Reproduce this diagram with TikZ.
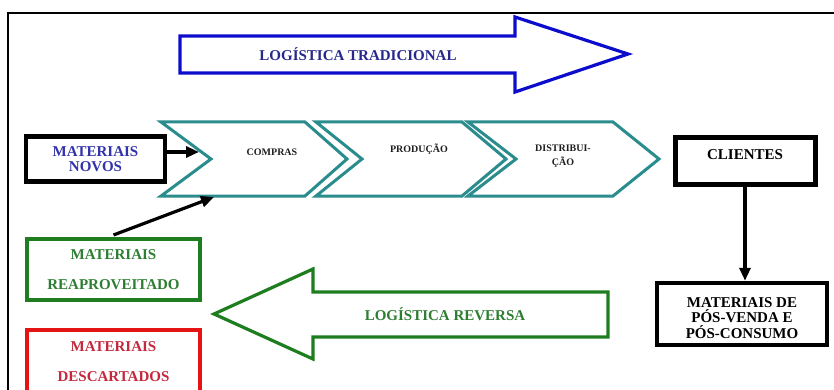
\documentclass[tikz,border=0pt]{standalone}
\usepackage{fontspec}
\setmainfont{Liberation Serif}
\usetikzlibrary{arrows.meta}
\definecolor{tblue}{RGB}{12,12,205}
\definecolor{tbluetxt}{RGB}{40,40,140}
\definecolor{novotxt}{RGB}{50,50,170}
\definecolor{tealc}{RGB}{42,140,140}
\definecolor{gline}{RGB}{30,125,30}
\definecolor{gtxt}{RGB}{45,125,50}
\definecolor{rline}{RGB}{228,20,20}
\definecolor{rtxt}{RGB}{195,40,60}
\definecolor{dtxt}{RGB}{30,30,30}
\begin{document}
\begin{tikzpicture}[x=1pt,y=-1pt,
  big/.style={font=\fontsize{15}{15.5}\selectfont\bfseries},
  small/.style={font=\fontsize{10}{13.5}\selectfont\bfseries,text=dtxt},
  boxk/.style={draw=black,line width=4.5pt,inner sep=0pt,align=center,big},
  chev/.style={draw=tealc,line width=3pt,line join=miter},
  bigarrow/.style={line width=3.2pt,line join=miter},
  conn/.style={line width=3.2pt,-{Triangle[length=13pt,width=11pt]}}]
\useasboundingbox (0,0) rectangle (834,390);
\clip (0,0) rectangle (834,390);
% frame
\draw[line width=1.6pt] (8,400) -- (8,13) -- (840,13);
% traditional logistics arrow
\draw[bigarrow,tblue] (180,36) -- (515,36) -- (515,17) -- (628,54) -- (515,92) -- (515,73) -- (180,73) -- cycle;
\node[big,text=tbluetxt] (trad) at (358,54) {LOGÍSTICA TRADICIONAL};
% chevrons
\draw[chev] (161,122) -- (305,122) -- (347,159) -- (305,196) -- (161,196) -- (211,159) -- cycle;
\draw[chev] (316,122) -- (462,122) -- (506,159) -- (462,196) -- (316,196) -- (362,159) -- cycle;
\draw[chev] (468,122) -- (613,122) -- (659,159) -- (613,196) -- (468,196) -- (516,159) -- cycle;
\coordinate (cin) at (199,152);
\coordinate (cbot) at (214,197);
\node[small] (compras) at (272,152) {COMPRAS};
\node[small] (producao) at (419,149) {PRODUÇÃO};
\node[small,align=center] (distrib) at (563,156) {DISTRIBUI-\\ÇÃO};
% boxes
\node[boxk,minimum width=139pt,minimum height=45pt,text=novotxt] (novos) at (95.5,159) {MATERIAIS\\NOVOS};
\node[boxk,line width=5pt,minimum width=140pt,minimum height=47pt,text=black,anchor=north] (clientes) at (745,135) {\raisebox{13pt}{CLIENTES}};
\node[boxk,minimum width=170pt,minimum height=62pt] (posvenda) at (742,314) {};
\node[big,align=center,text=black] (posvendatxt) at (742,318) {MATERIAIS DE\\PÓS-VENDA E\\PÓS-CONSUMO};
\node[draw=gline,line width=4pt,minimum width=173pt,minimum height=61pt,inner sep=0pt,align=center,big,text=gtxt] (reap) at (113.5,269.5) {MATERIAIS\\[15pt]REAPROVEITADO};
\node[draw=rline,line width=4pt,minimum width=173pt,minimum height=70pt,inner sep=0pt,anchor=north,big,text=rtxt] (desc) at (113.5,328) {};
\node[big,text=rtxt] (desc1) at (113.5,347) {MATERIAIS};
\node[big,text=rtxt] (desc2) at (113.5,377) {DESCARTADOS};
% reverse logistics arrow
\draw[bigarrow,gline] (608,292) -- (313,292) -- (313,269) -- (214,314) -- (313,359) -- (313,337) -- (608,337) -- cycle;
\node[big,text=gtxt] (rev) at (445,314) {LOGÍSTICA REVERSA};
% connectors
\draw[conn] (novos.east |- cin) -- (cin);
\draw[conn] (reap.north) ++(0,-2) coordinate (rtop) (rtop) -- (cbot);
\draw[conn] (clientes.south) -- (clientes.south |- posvenda.north);
\end{tikzpicture}
\end{document}
